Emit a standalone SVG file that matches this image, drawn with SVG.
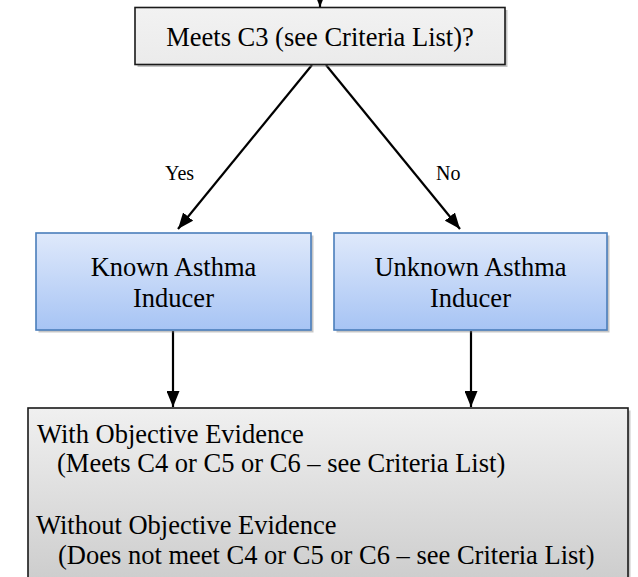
<svg xmlns="http://www.w3.org/2000/svg" width="638" height="577" viewBox="0 0 638 577">
<style>
.t{font-family:"Liberation Serif",serif;font-size:26.5px}
.s{font-family:"Liberation Serif",serif;font-size:20px}
.gray{fill:url(#gTop);stroke:#1a1a1a;stroke-width:1.6}
.blue{fill:url(#gBlue);stroke:#4a7ebb;stroke-width:1.6}
.shadow{fill:#808080;opacity:0.45}
.conn{stroke:#000;stroke-width:2.2;fill:none;marker-end:url(#ah)}
</style>
<defs>
<linearGradient id="gTop" x1="0" y1="0" x2="0" y2="1">
<stop offset="0" stop-color="#f2f2f2"/><stop offset="1" stop-color="#ebebeb"/>
</linearGradient>
<linearGradient id="gBlue" x1="0" y1="0" x2="0" y2="1">
<stop offset="0" stop-color="#dfe9fb"/><stop offset="1" stop-color="#a7c4f4"/>
</linearGradient>
<linearGradient id="gBot" x1="0" y1="408" x2="0" y2="600" gradientUnits="userSpaceOnUse">
<stop offset="0" stop-color="#f0f0f0"/><stop offset="1" stop-color="#c9c9c9"/>
</linearGradient>
<marker id="ah" viewBox="0 0 16 13" refX="16" refY="6.5" markerWidth="16" markerHeight="13" markerUnits="userSpaceOnUse" orient="auto">
<path d="M0,0 L16,6.5 L0,13 Z" fill="#000"/>
</marker>
</defs>
<g id="connectors">
<line class="conn" x1="320" y1="-8" x2="320" y2="7"/>
<line class="conn" x1="312" y1="65" x2="178" y2="229"/>
<line class="conn" x1="326" y1="65" x2="460" y2="229"/>
<line class="conn" x1="173" y1="331" x2="173" y2="407"/>
<line class="conn" x1="471" y1="331" x2="471" y2="407"/>
<text class="s" x="165" y="180">Yes</text>
<text class="s" x="436" y="180">No</text>
</g>
<g id="node-c3">
<rect class="shadow" x="137.5" y="10" width="370" height="57"/>
<rect class="gray" x="135" y="7.5" width="370" height="57"/>
<text class="t" x="320" y="46" text-anchor="middle">Meets C3 (see Criteria List)?</text>
</g>
<g id="node-known">
<rect class="shadow" x="38.5" y="235.5" width="275" height="97"/>
<rect class="blue" x="36" y="233" width="275" height="97"/>
<text class="t" x="173.5" y="276" text-anchor="middle">Known Asthma</text>
<text class="t" x="173.5" y="307" text-anchor="middle">Inducer</text>
</g>
<g id="node-unknown">
<rect class="shadow" x="336.5" y="235.5" width="273" height="97"/>
<rect class="blue" x="334" y="233" width="273" height="97"/>
<text class="t" x="470.5" y="276" text-anchor="middle">Unknown Asthma</text>
<text class="t" x="470.5" y="307" text-anchor="middle">Inducer</text>
</g>
<g id="node-evidence">
<rect class="shadow" x="30.5" y="410.5" width="600" height="200"/>
<rect x="28" y="408" width="600" height="200" fill="url(#gBot)" stroke="#1a1a1a" stroke-width="1.6"/>
<text class="t" x="37" y="443">With Objective Evidence</text>
<text class="t" x="57" y="472">(Meets C4 or C5 or C6 – see Criteria List)</text>
<text class="t" x="36" y="534">Without Objective Evidence</text>
<text class="t" x="58" y="564">(Does not meet C4 or C5 or C6 – see Criteria List)</text>
</g>
</svg>
